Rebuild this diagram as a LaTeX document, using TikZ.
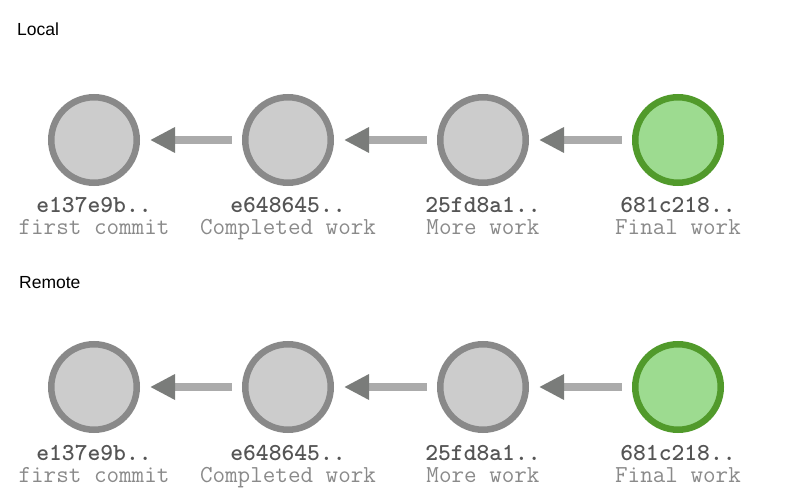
\documentclass[tikz,border=0pt]{standalone}
\usepackage{fontspec}
\setmainfont{Liberation Sans}
\usetikzlibrary{arrows.meta}
\definecolor{cgrayfill}{HTML}{CCCCCC}
\definecolor{cgraydraw}{HTML}{898989}
\definecolor{cgreenfill}{HTML}{9DDB90}
\definecolor{cgreendraw}{HTML}{519A2B}
\definecolor{clinec}{HTML}{ABABAB}
\definecolor{cheadc}{HTML}{7A7C7A}
\definecolor{chash}{HTML}{555555}
\definecolor{cmsg}{HTML}{8A8A8A}
\tikzset{
  commit/.style={circle, minimum size=85.5bp, inner sep=0pt, outer sep=0pt, line width=6.5bp, draw=cgraydraw, fill=cgrayfill},
  headcommit/.style={commit, draw=cgreendraw, fill=cgreenfill},
  parentarrow/.style={line width=8bp, draw=clinec, shorten <=13.25bp, shorten >=13.25bp,
    -{Triangle[length=25bp,width=24bp,color=cheadc]}},
  hashtext/.style={anchor=base, inner sep=0pt, text=chash, font=\ttfamily\bfseries\fontsize{24.4bp}{26bp}\selectfont},
  msgtext/.style={anchor=base, inner sep=0pt, text=cmsg, font=\ttfamily\fontsize{24.4bp}{26bp}\selectfont},
  sectiontext/.style={anchor=base west, inner sep=0pt, text=black, font=\fontsize{17.5bp}{20bp}\selectfont}
}
\begin{document}
\begin{tikzpicture}[x=1bp,y=-1bp]
\useasboundingbox (0,0) rectangle (800,500);
% Local
\node[sectiontext] (local) at (17,36) {Local};
\node[commit] (l1) at (94,140) {};
\node[commit] (l2) at (288,140) {};
\node[commit] (l3) at (483,140) {};
\node[headcommit] (l4) at (678,140) {};
\draw[parentarrow] (l2) -- (l1);
\draw[parentarrow] (l3) -- (l2);
\draw[parentarrow] (l4) -- (l3);
\node[hashtext] (lh1) at (94,213) {e137e9b..};
\node[hashtext] (lh2) at (288,213) {e648645..};
\node[hashtext] (lh3) at (483,213) {25fd8a1..};
\node[hashtext] (lh4) at (678,213) {681c218..};
\node[msgtext] (lm1) at (94,235) {first commit};
\node[msgtext] (lm2) at (288,235) {Completed work};
\node[msgtext] (lm3) at (483,235) {More work};
\node[msgtext] (lm4) at (678,235) {Final work};
% Remote
\node[sectiontext] (remote) at (19,289) {Remote};
\node[commit] (r1) at (94,387) {};
\node[commit] (r2) at (288,387) {};
\node[commit] (r3) at (483,387) {};
\node[headcommit] (r4) at (678,387) {};
\draw[parentarrow] (r2) -- (r1);
\draw[parentarrow] (r3) -- (r2);
\draw[parentarrow] (r4) -- (r3);
\node[hashtext] (rh1) at (94,460) {e137e9b..};
\node[hashtext] (rh2) at (288,460) {e648645..};
\node[hashtext] (rh3) at (483,460) {25fd8a1..};
\node[hashtext] (rh4) at (678,460) {681c218..};
\node[msgtext] (rm1) at (94,482) {first commit};
\node[msgtext] (rm2) at (288,482) {Completed work};
\node[msgtext] (rm3) at (483,482) {More work};
\node[msgtext] (rm4) at (678,482) {Final work};
\end{tikzpicture}
\end{document}
